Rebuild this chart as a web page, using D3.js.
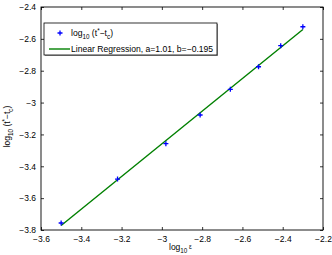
<!DOCTYPE html>
<html>
<head>
<meta charset="utf-8">
<script src="https://cdn.jsdelivr.net/npm/d3@7"></script>
<style>
  body { margin: 0; background: #fff; }
  svg { display: block; font-family: "Liberation Sans", Arial, sans-serif; }
</style>
</head>
<body>
<div id="chart"></div>
<script>
// log10 of epsilon and log10(t* - tc)
var logEps = [-3.50, -3.22, -2.98, -2.81, -2.66, -2.52, -2.41, -2.30];
var logT = [-3.756, -3.48, -3.258, -3.078, -2.917, -2.775, -2.643, -2.524];

var xTicks = [-3.6, -3.4, -3.2, -3.0, -2.8, -2.6, -2.4, -2.2];
var yTicks = [-3.8, -3.6, -3.4, -3.2, -3.0, -2.8, -2.6, -2.4];

var fitLabel = "Linear Regression, a=1.01, b=\u22120.195";

var margin = {top: 7, right: 9, bottom: 25, left: 41};
var width = 332 - margin.left - margin.right,
    height = 255 - margin.top - margin.bottom;

var svg = d3.select("#chart")
  .append("svg")
  .attr("width", 332)
  .attr("height", 255)
  .append("g")
  .attr("transform", "translate(" + margin.left + "," + margin.top + ")");

var x = d3.scaleLinear().domain([-3.6, -2.2]).range([0, width]);
var y = d3.scaleLinear().domain([-3.8, -2.4]).range([height, 0]);

function fmt(v) {
  return (+v.toFixed(1)).toString().replace("-", "\u2212");
}

// axes, ticks pointing inwards like matlab
function styleAxis(g, showText) {
  g.select(".domain").remove();
  g.selectAll("line").attr("stroke", "#000").attr("stroke-width", 0.8);
  g.selectAll("text").attr("fill", "#000").style("font-size", "8.5px");
  if (!showText) g.selectAll("text").remove();
}

svg.append("g")
  .attr("transform", "translate(0," + height + ")")
  .call(d3.axisBottom(x).tickValues(xTicks).tickSize(-3).tickPadding(6).tickFormat(fmt))
  .call(styleAxis, true);

svg.append("g")
  .call(d3.axisTop(x).tickValues(xTicks).tickSize(-3))
  .call(styleAxis, false);

svg.append("g")
  .call(d3.axisLeft(y).tickValues(yTicks).tickSize(-3).tickPadding(5).tickFormat(fmt))
  .call(styleAxis, true);

svg.append("g")
  .attr("transform", "translate(" + width + ",0)")
  .call(d3.axisRight(y).tickValues(yTicks).tickSize(-3))
  .call(styleAxis, false);

svg.append("rect")
  .attr("width", width)
  .attr("height", height)
  .attr("fill", "none")
  .attr("stroke", "#000")
  .attr("stroke-width", 0.9);

// least squares line through the points
var mx = d3.mean(logEps), my = d3.mean(logT);
var sxy = 0, sxx = 0;
for (var i = 0; i < logEps.length; i++) {
  sxy += (logEps[i] - mx) * (logT[i] - my);
  sxx += (logEps[i] - mx) * (logEps[i] - mx);
}
var slope = sxy / sxx, icpt = my - slope * mx;
var xEnds = d3.extent(logEps);

svg.append("line")
  .attr("x1", x(xEnds[0]))
  .attr("y1", y(slope * xEnds[0] + icpt))
  .attr("x2", x(xEnds[1]))
  .attr("y2", y(slope * xEnds[1] + icpt))
  .attr("stroke", "#008000")
  .attr("stroke-width", 1.4);

// plus markers
svg.selectAll(".pt")
  .data(logEps)
  .enter().append("path")
  .attr("class", "pt")
  .attr("d", "M-2.5,0H2.5M0,-2.5V2.5")
  .attr("transform", function(d, i) {
    return "translate(" + x(d) + "," + y(logT[i]) + ")";
  })
  .attr("stroke", "#0000ff")
  .attr("stroke-width", 1.3)
  .attr("fill", "none");

// legend
var leg = svg.append("g").attr("transform", "translate(3,16)");
leg.append("rect")
  .attr("x", 1).attr("y", 1)
  .attr("width", 173).attr("height", 32)
  .attr("fill", "#999");
leg.append("rect")
  .attr("width", 173).attr("height", 32)
  .attr("fill", "#fff")
  .attr("stroke", "#000")
  .attr("stroke-width", 0.8);
leg.append("path")
  .attr("d", "M-2.5,0H2.5M0,-2.5V2.5")
  .attr("transform", "translate(16,10)")
  .attr("stroke", "#0000ff")
  .attr("stroke-width", 1.3);
var lt = leg.append("text")
  .attr("x", 27).attr("y", 13)
  .style("font-size", "8.6px");
lt.append("tspan").text("log");
lt.append("tspan").attr("dy", 2.5).style("font-size", "6.3px").text("10");
lt.append("tspan").attr("dy", -2.5).text(" (t");
lt.append("tspan").attr("dy", -3.5).style("font-size", "6.3px").text("*");
lt.append("tspan").attr("dy", 3.5).text("\u2212t");
lt.append("tspan").attr("dy", 2.5).style("font-size", "6.3px").text("c");
lt.append("tspan").attr("dy", -2.5).text(")");

leg.append("line")
  .attr("x1", 5).attr("x2", 26)
  .attr("y1", 26).attr("y2", 26)
  .attr("stroke", "#008000")
  .attr("stroke-width", 1.4);
leg.append("text")
  .attr("x", 27).attr("y", 29)
  .style("font-size", "8.6px")
  .text(fitLabel);

// axis labels
var xl = svg.append("text")
  .attr("x", width / 2 - 13)
  .attr("y", height + 20)
  .style("font-size", "8.5px");
xl.append("tspan").text("log");
xl.append("tspan").attr("dy", 2.5).style("font-size", "6.3px").text("10");
xl.append("tspan").attr("dy", -4).style("font-size", "6.3px").text(" \u03b5");

var yl = svg.append("text")
  .attr("transform", "translate(-31," + (height / 2 + 8) + ") rotate(-90)")
  .attr("text-anchor", "middle")
  .style("font-size", "8.5px");
yl.append("tspan").text("log");
yl.append("tspan").attr("dy", 2.5).style("font-size", "6.3px").text("10");
yl.append("tspan").attr("dy", -2.5).text(" (t");
yl.append("tspan").attr("dy", -3.5).style("font-size", "6.3px").text("*");
yl.append("tspan").attr("dy", 3.5).text("\u2212t");
yl.append("tspan").attr("dy", 2.5).style("font-size", "6.3px").text("c");
yl.append("tspan").attr("dy", -2.5).text(")");
</script>
</body>
</html>
